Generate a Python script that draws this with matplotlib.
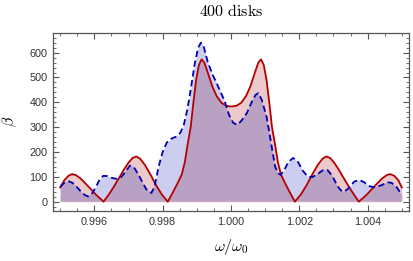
import matplotlib
matplotlib.use("Agg")
import matplotlib.pyplot as plt
from matplotlib.ticker import MultipleLocator, FormatStrFormatter

plt.rcParams["mathtext.fontset"] = "cm"
plt.rcParams["font.family"] = ["Liberation Sans", "DejaVu Sans"]

# red solid curve (omega/omega0, beta)
RED_W = [0.99500, 0.99512, 0.99524, 0.99535, 0.99546, 0.99560, 0.99575, 0.99590,
         0.99605, 0.99617, 0.99627, 0.99642, 0.99657, 0.99672, 0.99687, 0.99700,
         0.99712, 0.99723, 0.99734, 0.99748, 0.99764, 0.99780, 0.99797, 0.99815,
         0.99830, 0.99845, 0.99856, 0.99865, 0.99873, 0.99882, 0.99890, 0.99898,
         0.99906, 0.99914, 0.99922, 0.99932, 0.99945, 0.99958, 0.99972, 0.99986,
         1.00001, 1.00016, 1.00030, 1.00044, 1.00057, 1.00070, 1.00080, 1.00088,
         1.00096, 1.00104, 1.00112, 1.00120, 1.00129, 1.00137, 1.00146, 1.00157,
         1.00172, 1.00187, 1.00205, 1.00222, 1.00238, 1.00254, 1.00268, 1.00279,
         1.00290, 1.00302, 1.00315, 1.00330, 1.00345, 1.00360, 1.00374, 1.00385,
         1.00397, 1.00412, 1.00427, 1.00442, 1.00456, 1.00466, 1.00478, 1.00490,
         1.00500]
RED_B = [57, 86, 104, 111, 107, 93, 72, 50,
         28, 13, 0, 28, 60, 95, 130, 157,
         176, 182, 173, 148, 110, 68, 30, 0,
         38, 78, 110, 160, 230, 300, 400, 490,
         550, 573, 560, 520, 465, 425, 398, 386,
         383, 386, 398, 425, 465, 520, 560, 573,
         550, 490, 400, 300, 230, 160, 110, 78,
         38, 0, 30, 68, 110, 148, 173, 182,
         176, 157, 130, 95, 60, 28, 0, 13,
         28, 50, 72, 93, 107, 111, 104, 86,
         57]

# blue dashed curve
BLUE_W = [0.99500, 0.99512, 0.99524, 0.99536, 0.99548, 0.99560, 0.99572, 0.99582,
          0.99592, 0.99604, 0.99615, 0.99626, 0.99638, 0.99650, 0.99665, 0.99678,
          0.99690, 0.99704, 0.99716, 0.99728, 0.99740, 0.99752, 0.99767, 0.99776,
          0.99788, 0.99800, 0.99812, 0.99826, 0.99840, 0.99852, 0.99862, 0.99872,
          0.99882, 0.99894, 0.99904, 0.99912, 0.99920, 0.99932, 0.99945, 0.99958,
          0.99970, 0.99982, 0.99994, 1.00006, 1.00018, 1.00030, 1.00046, 1.00062,
          1.00072, 1.00080, 1.00090, 1.00104, 1.00112, 1.00119, 1.00129, 1.00138,
          1.00145, 1.00155, 1.00168, 1.00182, 1.00196, 1.00210, 1.00224, 1.00238,
          1.00252, 1.00268, 1.00282, 1.00296, 1.00312, 1.00322, 1.00331, 1.00345,
          1.00360, 1.00375, 1.00390, 1.00406, 1.00422, 1.00440, 1.00458, 1.00470,
          1.00484, 1.00500]
BLUE_B = [60, 76, 82, 76, 60, 42, 27, 21,
          30, 58, 88, 104, 103, 96, 92, 98,
          118, 145, 138, 112, 80, 50, 35, 60,
          140, 200, 238, 254, 262, 278, 310, 370,
          450, 557, 620, 640, 625, 562, 515, 477,
          440, 403, 350, 318, 309, 325, 356, 405,
          430, 437, 410, 343, 280, 222, 142, 114,
          108, 125, 160, 176, 160, 125, 102, 99,
          110, 126, 128, 105, 62, 45, 40, 55,
          80, 88, 78, 62, 58, 66, 78, 76,
          60, 28]

X_TICKS = [0.996, 0.998, 1.000, 1.002, 1.004]
Y_TICKS = [0, 100, 200, 300, 400, 500, 600]

fig = plt.figure(figsize=(4.14, 2.61), dpi=100)
ax = fig.add_axes([53 / 414, 1 - 211 / 261, 356 / 414, 178 / 261])

blue_fill = ax.fill_between(BLUE_W, 0, BLUE_B, color="#cdcdef", lw=0)
ax.fill_between(RED_W, 0, RED_B, color="#ecc9ca", lw=0)
overlap = ax.fill_between(RED_W, 0, RED_B, color="#b9a1c4", lw=0)
overlap.set_clip_path(blue_fill.get_paths()[0], ax.transData)

ax.plot(RED_W, RED_B, color="#b30000", lw=1.3)
ax.plot(BLUE_W, BLUE_B, color="#0000b3", lw=1.3, dashes=(3.5, 2.0))

ax.set_xlim(0.99479, 1.00521)
ax.set_ylim(-37.5, 679)
ax.set_xticks(X_TICKS)
ax.set_yticks(Y_TICKS)
ax.xaxis.set_major_formatter(FormatStrFormatter("%.3f"))
ax.xaxis.set_minor_locator(MultipleLocator(0.0005))
ax.yaxis.set_minor_locator(MultipleLocator(20))
ax.tick_params(which="both", direction="in", top=True, right=True,
               color="#555555", labelcolor="#333333", labelsize=7.8)
ax.tick_params(which="major", length=4, width=0.8, pad=4)
ax.tick_params(which="minor", length=2.2, width=0.6)
for sp in ax.spines.values():
    sp.set_color("#555555")
    sp.set_linewidth(0.9)

fig.text(231 / 414, 1 - 11 / 261, r"$\mathrm{400\ disks}$", ha="center", va="center", fontsize=11.5)
fig.text(231 / 414, 1 - 247 / 261, r"$\omega/\omega_0$", ha="center", va="center", fontsize=11.5)
fig.text(10 / 414, 1 - 121 / 261, r"$\beta$", ha="center", va="center", fontsize=11.5, rotation=90)

fig.savefig("out.png", dpi=100)
